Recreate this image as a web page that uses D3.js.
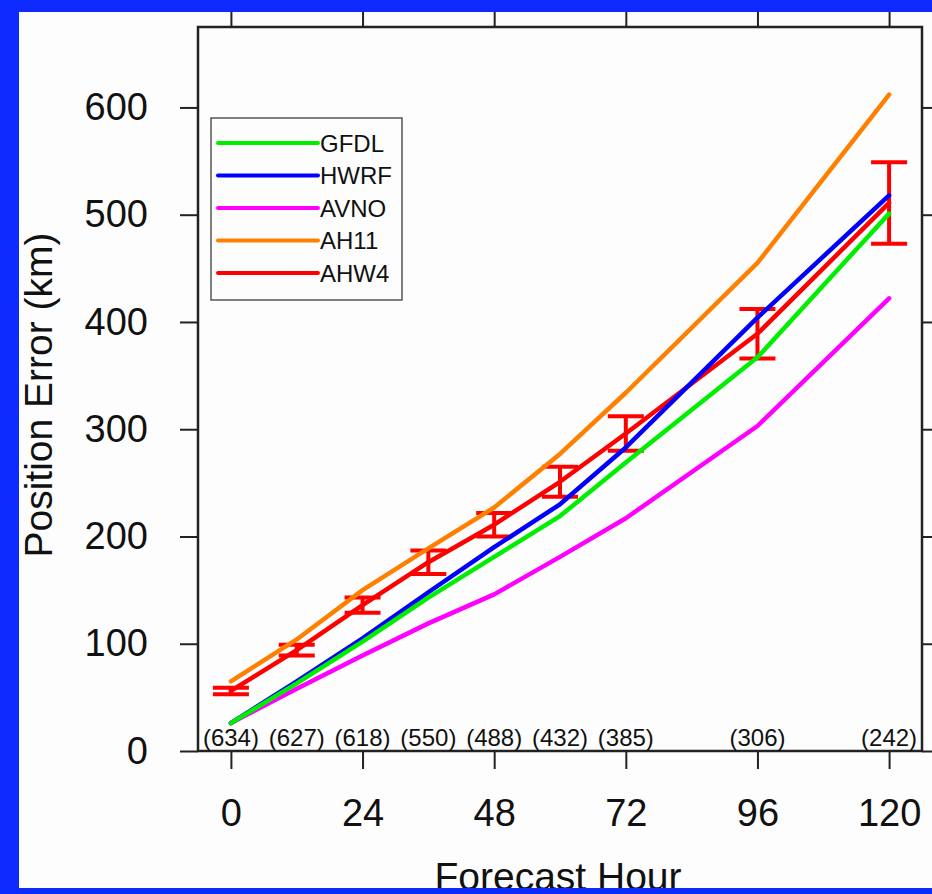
<!DOCTYPE html>
<html>
<head>
<meta charset="utf-8">
<script src="https://cdn.jsdelivr.net/npm/d3@7"></script>
<style>
  html, body { margin: 0; padding: 0; background: #0d2bff; }
  svg { display: block; }
</style>
</head>
<body>
<svg id="chart" width="932" height="894"></svg>
<script>
// Forecast hours and verification sample sizes
const hours = [0, 12, 24, 36, 48, 60, 72, 96, 120];
const sampleCounts = ["(634)", "(627)", "(618)", "(550)", "(488)", "(432)", "(385)", "(306)", "(242)"];

// Mean track position errors (km)
const gfdl = [26, 63, 102, 143, 181, 219, 269, 367, 501];
const hwrf = [26, 65, 105, 148, 190, 230, 283, 404, 518];
const avno = [26, 58, 89, 119, 146, 181, 217, 303, 422];
const ah11 = [65, 104, 150, 189, 227, 277, 334, 455, 612];
const ahw4 = [56, 94, 136, 176, 211, 251, 296, 389, 511];
// AHW4 confidence half-widths (km)
const ahw4Err = [3, 5, 7, 11, 11, 14, 16, 23, 38];

const xTicks = [0, 24, 48, 72, 96, 120];
const yTicks = [0, 100, 200, 300, 400, 500, 600];

const series = [
  { name: "AHW4", values: ahw4, color: "#ff0000" },
  { name: "AH11", values: ah11, color: "#ff8000" },
  { name: "AVNO", values: avno, color: "#ff00ff" },
  { name: "HWRF", values: hwrf, color: "#0000ff" },
  { name: "GFDL", values: gfdl, color: "#00ee00" }
];
const legendOrder = ["GFDL", "HWRF", "AVNO", "AH11", "AHW4"];

const svg = d3.select("#chart");
const frame = { left: 198, right: 922, top: 27, bottom: 751 };

const x = d3.scaleLinear().domain([-6, 126]).range([frame.left, frame.right]);
const y = d3.scaleLinear().domain([0, 675]).range([frame.bottom, frame.top]);

// white page area
svg.append("rect").attr("x", 19).attr("y", 12).attr("width", 913).attr("height", 876).attr("fill", "#fdfdfd");

const font = "'Liberation Sans', Arial, Helvetica, sans-serif";

// axes: ticks pointing outward on all four sides
svg.append("g").attr("transform", `translate(0,${frame.bottom})`)
  .call(d3.axisBottom(x).tickValues(xTicks).tickSizeInner(18).tickSizeOuter(0).tickPadding(30).tickFormat(d3.format("d")))
  .call(g => g.select(".domain").remove());
svg.append("g").attr("transform", `translate(0,${frame.top})`)
  .call(d3.axisTop(x).tickValues(xTicks).tickSizeInner(18).tickSizeOuter(0).tickFormat(""))
  .call(g => g.select(".domain").remove());
svg.append("g").attr("transform", `translate(${frame.left},0)`)
  .call(d3.axisLeft(y).tickValues(yTicks).tickSizeInner(18).tickSizeOuter(0).tickPadding(32).tickFormat(d3.format("d")))
  .call(g => g.select(".domain").remove());
svg.append("g").attr("transform", `translate(${frame.right},0)`)
  .call(d3.axisRight(y).tickValues(yTicks).tickSizeInner(18).tickSizeOuter(0).tickFormat(""))
  .call(g => g.select(".domain").remove());

svg.selectAll(".tick line").attr("stroke", "#222").attr("stroke-width", 2);
svg.selectAll(".tick text").attr("font-family", font).attr("font-size", 38).attr("fill", "#111");

// plot frame
svg.append("rect")
  .attr("x", frame.left).attr("y", frame.top)
  .attr("width", frame.right - frame.left).attr("height", frame.bottom - frame.top)
  .attr("fill", "none").attr("stroke", "#222").attr("stroke-width", 2.5);

// sample sizes along the bottom of the plot
svg.append("g").selectAll("text").data(hours).join("text")
  .attr("x", d => x(d)).attr("y", frame.bottom - 5)
  .attr("text-anchor", "middle")
  .attr("font-family", font).attr("font-size", 24).attr("fill", "#111")
  .text((d, i) => sampleCounts[i]);

// error bars for AHW4
const eb = svg.append("g").attr("stroke", "#ff0000").attr("stroke-width", 4).attr("fill", "none");
hours.forEach((h, i) => {
  const lo = y(ahw4[i] - ahw4Err[i]), hi = y(ahw4[i] + ahw4Err[i]), cx = x(h);
  eb.append("line").attr("x1", cx).attr("x2", cx).attr("y1", lo).attr("y2", hi);
  eb.append("line").attr("x1", cx - 18).attr("x2", cx + 18).attr("y1", lo).attr("y2", lo);
  eb.append("line").attr("x1", cx - 18).attr("x2", cx + 18).attr("y1", hi).attr("y2", hi);
});

// series lines
const line = d3.line().x((d, i) => x(hours[i])).y(d => y(d));
svg.append("g").selectAll("path").data(series).join("path")
  .attr("d", d => line(d.values))
  .attr("fill", "none")
  .attr("stroke", d => d.color)
  .attr("stroke-width", 4.5)
  .attr("stroke-linecap", "round")
  .attr("stroke-linejoin", "round");

// legend
const lg = svg.append("g");
lg.append("rect").attr("x", 211).attr("y", 118).attr("width", 191).attr("height", 182)
  .attr("fill", "#fdfdfd").attr("stroke", "#555").attr("stroke-width", 1.5);
legendOrder.forEach((name, i) => {
  const s = series.find(d => d.name === name);
  const ly = 143 + i * 32.5;
  lg.append("line").attr("x1", 218).attr("x2", 318).attr("y1", ly).attr("y2", ly)
    .attr("stroke", s.color).attr("stroke-width", 4).attr("stroke-linecap", "round");
  lg.append("text").attr("x", 320).attr("y", ly).attr("dy", "0.36em")
    .attr("font-family", font).attr("font-size", 24).attr("fill", "#111").text(name);
});

// axis titles
svg.append("text")
  .attr("transform", `translate(52,395) rotate(-90)`)
  .attr("text-anchor", "middle")
  .attr("font-family", font).attr("font-size", 39).attr("fill", "#111")
  .text("Position Error (km)");
svg.append("text")
  .attr("x", 558).attr("y", 890)
  .attr("text-anchor", "middle")
  .attr("font-family", font).attr("font-size", 39).attr("fill", "#111")
  .text("Forecast Hour");

// outer blue border
svg.append("rect").attr("x", 0).attr("y", 0).attr("width", 932).attr("height", 12).attr("fill", "#0d2bff");
svg.append("rect").attr("x", 0).attr("y", 0).attr("width", 19).attr("height", 894).attr("fill", "#0d2bff");
svg.append("rect").attr("x", 0).attr("y", 888).attr("width", 932).attr("height", 6).attr("fill", "#0d2bff");
</script>
</body>
</html>
